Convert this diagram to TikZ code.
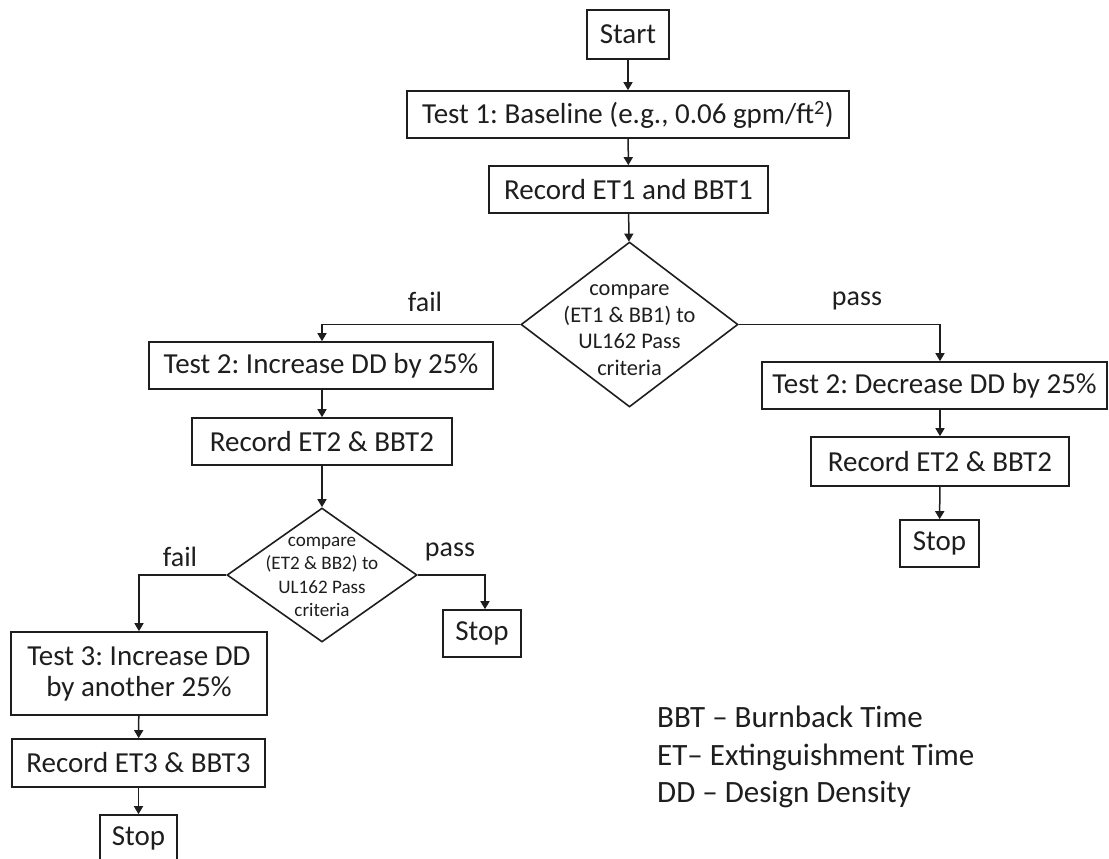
\documentclass[tikz,border=0pt]{standalone}
\usepackage{fontspec}
\setmainfont{Carlito}
\usetikzlibrary{arrows.meta,shapes.geometric}
\definecolor{ink}{HTML}{1E1E1E}
\frenchspacing
\begin{document}
\begin{tikzpicture}[x=1pt,y=-1pt,
  every node/.style={text=ink},
  box/.style={draw=ink,line width=1.6pt,inner sep=0pt,align=center,
    font=\fontsize{29}{31}\selectfont},
  dia/.style={draw=ink,line width=1.6pt,shape=diamond,inner sep=0pt},
  diatext/.style={align=center,inner sep=0pt},
  lbl/.style={inner sep=0pt,font=\fontsize{28}{30}\selectfont},
  arr/.style={draw=ink,line width=1.5pt,-{Triangle[length=8pt,width=9pt]}}
]
\useasboundingbox (0,0) rectangle (1109,859);
\clip (0,0) rectangle (1109,859);
% top
\node[box,minimum width=82pt,minimum height=49pt] (start) at (628,34.5) {Start};
\node[box,minimum width=442pt,minimum height=47pt] (test1) at (628,114.5) {Test 1: Baseline (e.g., 0.06 gpm/ft\textsuperscript{2})};
\node[box,minimum width=279pt,minimum height=47pt] (rec1) at (628.5,189.5) {Record ET1 and BBT1};
\node[dia,minimum width=217pt,minimum height=165pt] (d1) at (629.5,324.5) {};
\node[diatext,font=\fontsize{22.4}{26.7}\selectfont] (d1t) at (629.5,330) {compare\\(ET1 \& BB1) to\\UL162 Pass\\criteria};
% right branch
\node[box,minimum width=345pt,minimum height=47pt] (test2R) at (934.5,385.5) {Test 2: Decrease DD by 25\%};
\node[box,minimum width=258pt,minimum height=49pt] (rec2R) at (940,461.5) {Record ET2 \& BBT2};
\node[box,minimum width=79pt,minimum height=47pt] (stopR) at (939.5,543.5) {Stop};
% left branch
\node[box,minimum width=344pt,minimum height=47pt] (test2L) at (321,365.5) {Test 2: Increase DD by 25\%};
\node[box,minimum width=260pt,minimum height=47pt] (rec2L) at (322,441.5) {Record ET2 \& BBT2};
\node[dia,minimum width=190pt,minimum height=134pt] (d2) at (322,575) {};
\node[diatext,font=\fontsize{19.1}{23.3}\selectfont] (d2t) at (322,577) {compare\\(ET2 \& BB2) to\\UL162 Pass\\criteria};
\node[box,minimum width=78pt,minimum height=47pt] (stopM) at (482,633.5) {Stop};
\node[box,minimum width=256pt,minimum height=83pt] (test3) at (139,673.5) {Test 3: Increase DD\\by another 25\%};
\node[box,minimum width=253pt,minimum height=48pt] (rec3) at (138.5,763) {Record ET3 \& BBT3};
\node[box,minimum width=77pt,minimum height=47pt] (stopL) at (138.5,838.5) {Stop};
% labels
\node[lbl] (fail1) at (425,302) {fail};
\node[lbl] (pass1) at (857,301) {pass};
\node[lbl] (fail2) at (180,557) {fail};
\node[lbl] (pass2) at (450,552) {pass};
% legend
\node[inner sep=0pt,align=left,anchor=north west,font=\fontsize{31}{37.5}\selectfont] (legend) at (657,706) {BBT -- Burnback Time\\ET-- Extinguishment Time\\DD -- Design Density};
% connectors
\draw[arr] (start) -- (test1);
\draw[arr] (test1) -- (rec1);
\draw[arr] (rec1) -- (d1);
\draw[arr] (d1.west) -| (test2L.north -| rec2L.north);
\coordinate (rx) at (rec2R.north);
\draw[arr] (d1.east) -| (rx |- test2R.north);
\draw[arr] (rx |- test2R.south) -- (rec2R.north);
\draw[arr] (rec2R) -- (stopR);
\draw[arr] (test2L.south -| rec2L.north) -- (rec2L.north);
\draw[arr] (rec2L) -- (d2);
\draw[arr] (d2.west) -| (test3.north);
\draw[arr] (d2.east) -| ([xshift=3pt]stopM.north);
\draw[arr] (test3) -- (rec3);
\draw[arr] (rec3) -- (stopL);
\end{tikzpicture}
\end{document}
